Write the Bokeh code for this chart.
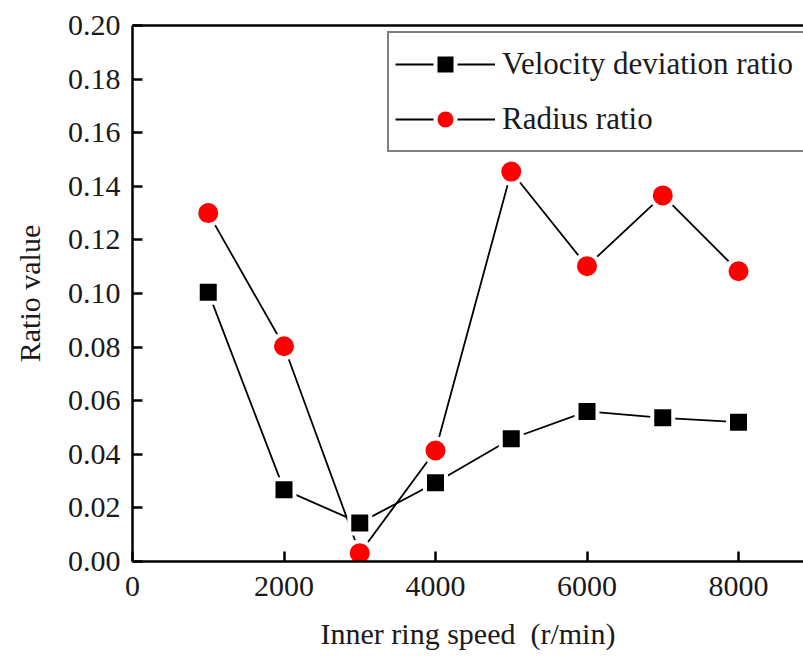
from bokeh.plotting import figure
from bokeh.models import Range1d, LinearAxis, Legend, LegendItem, FixedTicker, CustomJSTickFormatter
from bokeh.embed import file_html
from bokeh.resources import INLINE

# Data
speed = [1000, 2000, 3000, 4000, 5000, 6000, 7000, 8000]
velocity_deviation_ratio = [0.1005, 0.0268, 0.0144, 0.0294, 0.0458, 0.0560, 0.0536, 0.0520]
radius_ratio = [0.1300, 0.0803, 0.0031, 0.0414, 0.1455, 0.1102, 0.1366, 0.1083]
x_ticks = [0, 2000, 4000, 6000, 8000]
y_ticks = [0.00, 0.02, 0.04, 0.06, 0.08, 0.10, 0.12, 0.14, 0.16, 0.18, 0.20]
series_names = ["Velocity deviation ratio", "Radius ratio"]
x_label = "Inner ring speed\u00a0 (r/min)"
y_label = "Ratio value"

FONT = "Liberation Serif"
FS = "30px"

p = figure(width=803, height=656, output_backend="svg", toolbar_location=None,
           x_range=Range1d(0, 8858), y_range=Range1d(0, 0.20),
           min_border_left=132, min_border_right=0, min_border_top=25, min_border_bottom=95)
p.outline_line_color = None
p.grid.visible = False
p.background_fill_color = "white"
p.border_fill_color = "white"

for ax in (p.xaxis[0], p.yaxis[0]):
    ax.axis_line_width = 2.5
    ax.axis_line_color = "black"
    ax.major_tick_in = 10
    ax.major_tick_out = 0
    ax.major_tick_line_width = 2.5
    ax.minor_tick_in = 0
    ax.minor_tick_out = 0
    ax.major_label_text_font = FONT
    ax.major_label_text_font_size = FS
    ax.major_label_text_color = "#1a1a1a"
    ax.axis_label_text_font = FONT
    ax.axis_label_text_font_size = FS
    ax.axis_label_text_font_style = "normal"
    ax.axis_label_text_color = "#1a1a1a"

p.xaxis[0].ticker = FixedTicker(ticks=x_ticks)
p.yaxis[0].ticker = FixedTicker(ticks=y_ticks)
p.yaxis[0].formatter = CustomJSTickFormatter(code="return tick.toFixed(2);")
p.xaxis[0].axis_label = x_label
p.yaxis[0].axis_label = y_label
p.xaxis[0].major_label_standoff = 15
p.xaxis[0].axis_label_standoff = 18
p.yaxis[0].major_label_standoff = 12
p.yaxis[0].axis_label_standoff = 19

top = LinearAxis(ticker=FixedTicker(ticks=[]), major_label_text_font_size="0px",
                 axis_line_width=2.5, axis_line_color="black", major_tick_in=0, major_tick_out=0,
                 minor_tick_in=0, minor_tick_out=0)
p.add_layout(top, "above")

l1 = p.line(speed, velocity_deviation_ratio, line_color="black", line_width=1.8)
l2 = p.line(speed, radius_ratio, line_color="black", line_width=1.8)
m1 = p.scatter(speed, velocity_deviation_ratio, marker="square", size=21,
               fill_color="black", line_color="white", line_width=4)
m2 = p.scatter(speed, radius_ratio, marker="circle", size=24,
               fill_color="#ff0000", line_color="white", line_width=4)

legend = Legend(items=[LegendItem(label=series_names[0], renderers=[l1, m1]),
                       LegendItem(label=series_names[1], renderers=[l2, m2])],
                location=(255, 409))
legend.label_text_font = FONT
legend.label_text_font_size = "31px"
legend.label_text_color = "#1a1a1a"
legend.label_width = 345
legend.glyph_width = 100
legend.glyph_height = 50
legend.spacing = 5
legend.padding = 6
legend.label_standoff = 7
legend.border_line_color = "black"
legend.border_line_width = 2.5
legend.background_fill_color = "white"
legend.background_fill_alpha = 1
p.add_layout(legend)

open("out.html", "w").write(file_html(p, INLINE))
